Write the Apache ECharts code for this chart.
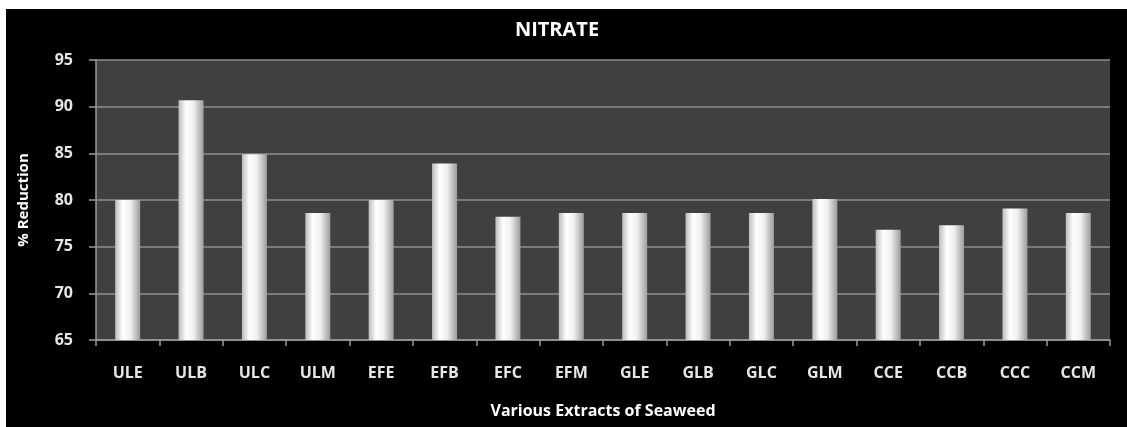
<!DOCTYPE html>
<html>
<head>
<meta charset="utf-8">
<script src="https://cdn.jsdelivr.net/npm/echarts@6/dist/echarts.min.js"></script>
<style>
  html, body { margin: 0; padding: 0; background: #ffffff; }
  #frame { position: absolute; left: 6px; top: 9px; width: 1121px; height: 418px; background: #000000; }
  #chart { width: 1121px; height: 418px; }
</style>
</head>
<body>
<div id="frame"><div id="chart"></div></div>
<script>
// Nitrate reduction (%) for each seaweed extract
const categories = ['ULE', 'ULB', 'ULC', 'ULM', 'EFE', 'EFB', 'EFC', 'EFM',
                    'GLE', 'GLB', 'GLC', 'GLM', 'CCE', 'CCB', 'CCC', 'CCM'];
const reduction = [80.0, 90.7, 84.9, 78.6, 80.0, 83.9, 78.2, 78.6,
                   78.6, 78.6, 78.6, 80.1, 76.8, 77.3, 79.1, 78.6];
const yTicks = { min: 65, max: 95, step: 5 };

const FONT = '"Open Sans", "DejaVu Sans", sans-serif';

const chart = echarts.init(document.getElementById('chart'), null, { renderer: 'canvas' });

// Cylinder-like shading across each bar
const barFill = new echarts.graphic.LinearGradient(0, 0, 1, 0, [
  { offset: 0.0, color: '#bcbcbc' },
  { offset: 0.3, color: '#ffffff' },
  { offset: 0.6, color: '#f0f0f0' },
  { offset: 1.0, color: '#9c9c9c' }
]);

chart.setOption({
  backgroundColor: '#000000',
  animation: false,
  title: {
    text: 'NITRATE',
    left: 546,
    top: 6,
    textAlign: 'center',
    textStyle: { color: '#ffffff', fontFamily: FONT, fontWeight: 'bold', fontSize: 20 }
  },
  grid: {
    left: 90, right: 17, top: 51, bottom: 87,
    show: true, backgroundColor: '#404040', borderWidth: 0
  },
  xAxis: {
    type: 'category',
    data: categories,
    name: 'Various Extracts of Seaweed',
    nameLocation: 'middle',
    nameGap: 63,
    nameTextStyle: { color: '#ffffff', fontFamily: FONT, fontWeight: 'bold', fontSize: 16 },
    axisLine: { show: true, lineStyle: { color: '#9a9a9a', width: 1.5 } },
    axisTick: { show: true, length: 6, lineStyle: { color: '#9a9a9a', width: 1.5 } },
    axisLabel: { color: '#e6e6e6', fontFamily: FONT, fontWeight: 'bold', fontSize: 16, margin: 25 },
    splitLine: { show: false }
  },
  yAxis: {
    type: 'value',
    min: yTicks.min,
    max: yTicks.max,
    interval: yTicks.step,
    name: '% Reduction',
    nameLocation: 'middle',
    nameRotate: 90,
    nameGap: 65,
    nameTextStyle: { color: '#ffffff', fontFamily: FONT, fontWeight: 'bold', fontSize: 15 },
    axisLine: { show: true, lineStyle: { color: '#9a9a9a', width: 1.5 } },
    axisTick: { show: true, length: 7, lineStyle: { color: '#9a9a9a', width: 1.5 } },
    axisLabel: { color: '#e6e6e6', fontFamily: FONT, fontWeight: 'bold', fontSize: 16, margin: 23 },
    splitLine: { show: true, lineStyle: { color: '#8e8e8e', width: 1.5 } }
  },
  series: [{
    type: 'bar',
    data: reduction,
    barWidth: 25,
    itemStyle: { color: barFill }
  }]
});
</script>
</body>
</html>
